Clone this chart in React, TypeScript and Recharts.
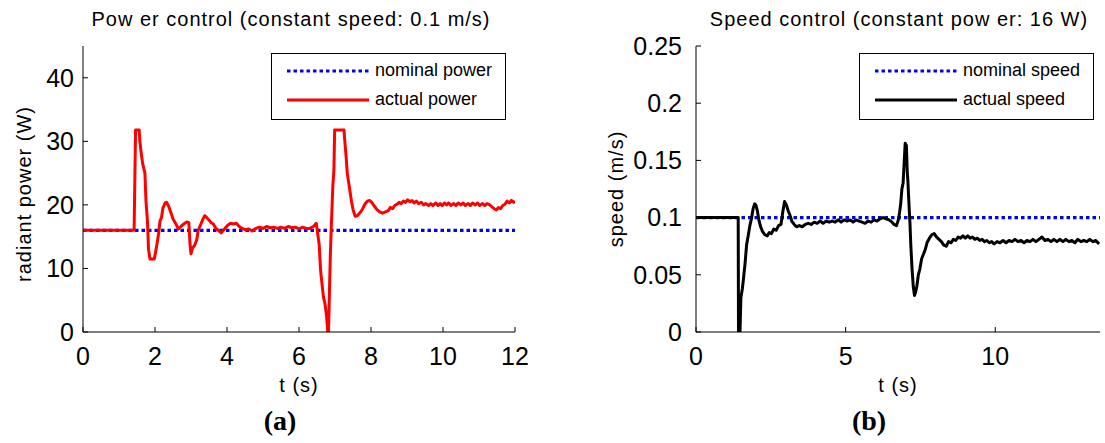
import { LineChart, Line, XAxis, YAxis } from 'recharts'

const POWER_TICKS_X = [0, 2, 4, 6, 8, 10, 12]
const POWER_TICKS_Y = [0, 10, 20, 30, 40]
const SPEED_TICKS_X = [0, 5, 10]
const SPEED_TICKS_Y = [0, 0.05, 0.1, 0.15, 0.2, 0.25]

// [t (s), value]
const nominalPower: [number, number][] = [[0, 16], [12, 16]]
const actualPower: [number, number][] = [
  [0, 16], [1.42, 16], [1.46, 31.8], [1.56, 31.8], [1.58, 30], [1.62, 28], [1.66, 26.4], [1.72, 25],
  [1.75, 20.5], [1.79, 17.5], [1.82, 13], [1.86, 11.5], [1.98, 11.5], [2.03, 13], [2.06, 14], [2.1, 15.5],
  [2.14, 17.5], [2.18, 18], [2.22, 19.5], [2.28, 20.3], [2.32, 20.4], [2.38, 19.8], [2.44, 18.8], [2.5, 17.8],
  [2.58, 17], [2.65, 16.2], [2.72, 16.6], [2.8, 17], [2.88, 17.3], [2.94, 17.2], [2.97, 14], [3.0, 12.3],
  [3.04, 13.2], [3.1, 13.6], [3.16, 14.5], [3.2, 16], [3.26, 16.8], [3.32, 17.6], [3.38, 18.3], [3.44, 18],
  [3.5, 17.6], [3.56, 17.2], [3.62, 17], [3.68, 16.4], [3.76, 16], [3.84, 15.6], [3.9, 16], [3.96, 16.4],
  [4.02, 16.8], [4.1, 17.1], [4.18, 17], [4.26, 17.1], [4.34, 16.6], [4.42, 16.3], [4.5, 16.1], [4.6, 16.2],
  [4.7, 15.9], [4.8, 16.3], [4.9, 16.5], [5.0, 16.3], [5.1, 16.6], [5.2, 16.4], [5.3, 16.5], [5.4, 16.3],
  [5.5, 16.5], [5.6, 16.3], [5.7, 16.6], [5.8, 16.4], [5.9, 16.5], [6.0, 16.2], [6.1, 16.5], [6.2, 16.3],
  [6.3, 16.3], [6.4, 16.6], [6.48, 17.1], [6.53, 15], [6.56, 13.8], [6.6, 9.7], [6.64, 7.5], [6.68, 5.5],
  [6.72, 4.5], [6.76, 2.8], [6.8, 0], [6.82, 0], [6.84, 5], [6.87, 12], [6.9, 17], [6.94, 23],
  [6.97, 25.5], [6.99, 31.8], [7.25, 31.8], [7.28, 29.5], [7.31, 27.5], [7.34, 25], [7.38, 23.5], [7.42, 22],
  [7.46, 20.5], [7.5, 19.3], [7.56, 18.2], [7.62, 18.3], [7.7, 18.8], [7.77, 19.4], [7.83, 20.1], [7.9, 20.6],
  [7.96, 20.7], [8.02, 20.4], [8.08, 19.9], [8.16, 19.3], [8.24, 18.9], [8.32, 18.7], [8.4, 18.9], [8.48, 19.1],
  [8.54, 19.6], [8.6, 19.4], [8.66, 19.9], [8.72, 20.1], [8.78, 20.4], [8.84, 20.2], [8.9, 20.6], [8.96, 20.4],
  [9.02, 20.8], [9.08, 20.5], [9.14, 20.7], [9.2, 20.3], [9.26, 20.6], [9.32, 20.2], [9.4, 20.4], [9.46, 20],
  [9.52, 20.2], [9.6, 19.9], [9.66, 20.2], [9.72, 19.9], [9.8, 20.3], [9.86, 19.9], [9.92, 20.2], [9.98, 19.9],
  [10.04, 20.3], [10.1, 20], [10.16, 20.3], [10.22, 19.9], [10.3, 20.2], [10.36, 19.9], [10.42, 20.3], [10.5, 20],
  [10.56, 20.3], [10.62, 19.9], [10.7, 20.2], [10.76, 19.9], [10.82, 20.3], [10.9, 20], [10.96, 20.3], [11.02, 19.9],
  [11.1, 20.2], [11.16, 19.9], [11.22, 20.2], [11.3, 20], [11.36, 19.7], [11.42, 19.4], [11.48, 19.2], [11.54, 19.6],
  [11.6, 19.4], [11.66, 19.9], [11.72, 20.1], [11.78, 20.6], [11.84, 20.3], [11.9, 20.7], [11.96, 20.4], [12, 20.6],
]

const nominalSpeed: [number, number][] = [[0, 0.1], [13.5, 0.1]]
const actualSpeed: [number, number][] = [
  [0, 0.1], [1.41, 0.1], [1.42, 0], [1.47, 0], [1.5, 0.03], [1.55, 0.038], [1.6, 0.05], [1.64, 0.06],
  [1.69, 0.076], [1.75, 0.085], [1.8, 0.093], [1.86, 0.1], [1.91, 0.108], [1.96, 0.112], [2.0, 0.111], [2.05, 0.106],
  [2.1, 0.098], [2.16, 0.092], [2.22, 0.088], [2.3, 0.085], [2.38, 0.084], [2.45, 0.087], [2.52, 0.086], [2.6, 0.09],
  [2.68, 0.089], [2.76, 0.093], [2.84, 0.094], [2.9, 0.105], [2.96, 0.114], [3.02, 0.111], [3.08, 0.106], [3.14, 0.102],
  [3.2, 0.097], [3.28, 0.094], [3.36, 0.092], [3.45, 0.093], [3.55, 0.092], [3.65, 0.094], [3.75, 0.095], [3.85, 0.094],
  [3.95, 0.096], [4.05, 0.095], [4.15, 0.097], [4.25, 0.095], [4.35, 0.097], [4.45, 0.096], [4.55, 0.097], [4.65, 0.096],
  [4.75, 0.098], [4.85, 0.096], [4.95, 0.098], [5.05, 0.097], [5.15, 0.098], [5.25, 0.096], [5.35, 0.098], [5.45, 0.097],
  [5.55, 0.096], [5.65, 0.095], [5.75, 0.097], [5.85, 0.096], [5.95, 0.098], [6.05, 0.097], [6.15, 0.099], [6.25, 0.1],
  [6.35, 0.099], [6.45, 0.098], [6.55, 0.096], [6.62, 0.094], [6.7, 0.093], [6.76, 0.098], [6.8, 0.104], [6.84, 0.112],
  [6.88, 0.125], [6.92, 0.13], [6.96, 0.15], [6.99, 0.165], [7.03, 0.163], [7.06, 0.14], [7.08, 0.132], [7.12, 0.11],
  [7.15, 0.095], [7.18, 0.075], [7.22, 0.055], [7.26, 0.04], [7.3, 0.032], [7.34, 0.035], [7.38, 0.04], [7.43, 0.05],
  [7.48, 0.055], [7.54, 0.064], [7.6, 0.068], [7.66, 0.072], [7.72, 0.078], [7.8, 0.082], [7.88, 0.085], [7.96, 0.086],
  [8.04, 0.083], [8.12, 0.081], [8.2, 0.079], [8.28, 0.076], [8.36, 0.075], [8.44, 0.079], [8.52, 0.078], [8.6, 0.081],
  [8.68, 0.08], [8.76, 0.083], [8.84, 0.082], [8.92, 0.084], [9.0, 0.082], [9.08, 0.084], [9.16, 0.082], [9.24, 0.083],
  [9.32, 0.081], [9.4, 0.082], [9.48, 0.08], [9.56, 0.081], [9.64, 0.079], [9.72, 0.08], [9.8, 0.078], [9.88, 0.079],
  [9.96, 0.077], [10.06, 0.079], [10.16, 0.078], [10.26, 0.08], [10.36, 0.078], [10.46, 0.08], [10.56, 0.079], [10.66, 0.081],
  [10.76, 0.079], [10.86, 0.08], [10.96, 0.078], [11.06, 0.08], [11.16, 0.079], [11.26, 0.081], [11.36, 0.079], [11.46, 0.081],
  [11.56, 0.083], [11.66, 0.08], [11.76, 0.081], [11.86, 0.079], [11.96, 0.081], [12.06, 0.079], [12.16, 0.081], [12.26, 0.079],
  [12.36, 0.081], [12.46, 0.079], [12.56, 0.08], [12.66, 0.078], [12.76, 0.081], [12.86, 0.079], [12.96, 0.08], [13.06, 0.079],
  [13.16, 0.081], [13.26, 0.079], [13.36, 0.08], [13.47, 0.077],
]

const toRows = (pts: [number, number][]) => pts.map(([t, v]) => ({ t, v }))

const SANS = '"Liberation Sans", Arial, sans-serif'
const tickStyle = { fill: '#000', fontSize: 25, fontFamily: SANS }
const axisLabel = { fill: '#000', fontSize: 20, fontFamily: SANS, letterSpacing: 1 }

function LegendBox({ left, items }: { left: number; items: { label: string; color: string; dotted: boolean }[] }) {
  return (
    <div
      style={{
        position: 'absolute', left, top: 53, width: 235, height: 67, border: '1px solid #000',
        background: '#fff', fontFamily: SANS, fontSize: 18, boxSizing: 'border-box',
      }}
    >
      {items.map((it, i) => (
        <div key={i} style={{ position: 'absolute', left: 15, top: 6 + i * 29, display: 'flex', alignItems: 'center' }}>
          <svg width={82} height={6} style={{ marginRight: 6 }}>
            <line x1={0} y1={3} x2={82} y2={3} stroke={it.color} strokeWidth={3.2}
              strokeDasharray={it.dotted ? '3.5 3' : undefined} />
          </svg>
          <span>{it.label}</span>
        </div>
      ))}
    </div>
  )
}

function Panel(props: {
  left: number; width: number; yWidth: number; plotWidth: number; tickMargin: number
  xMax: number; yMax: number; xTicks: number[]; yTicks: number[]
  nominal: [number, number][]; actual: [number, number][]; color: string
  yLabel: string; yLabelDx: number; yLabelDy: number
}) {
  const { left, width, yWidth, plotWidth, xMax, yMax, xTicks, yTicks } = props
  return (
    <div style={{ position: 'absolute', left, top: 0 }}>
      <LineChart width={width} height={443} margin={{ top: 46, right: width - yWidth - plotWidth, left: 0, bottom: 71 }}>
        <XAxis xAxisId="b" dataKey="t" type="number" domain={[0, xMax]} ticks={xTicks} allowDataOverflow
          height={40} tickSize={-5} tickMargin={20} tick={tickStyle} stroke="#000" interval={0}
          label={{ value: 't (s)', position: 'bottom', offset: 6, style: axisLabel }} />
        <XAxis xAxisId="top" orientation="top" dataKey="t" type="number" domain={[0, xMax]} ticks={xTicks}
          height={0} tickSize={-5} tick={false} stroke="#000" />
        <YAxis yAxisId="l" type="number" domain={[0, yMax]} ticks={yTicks} allowDataOverflow width={yWidth}
          tickSize={-5} tickMargin={props.tickMargin} tick={tickStyle} stroke="#000" interval={0}
          label={{ value: props.yLabel, angle: -90, position: 'center', dx: props.yLabelDx, dy: props.yLabelDy, style: axisLabel }} />
        <YAxis yAxisId="r" orientation="right" type="number" domain={[0, yMax]} ticks={yTicks} width={0}
          tickSize={-5} tick={false} stroke="#000" />
        <Line xAxisId="b" yAxisId="l" data={toRows(props.nominal)} dataKey="v" stroke="#0000ff" strokeWidth={3.2}
          strokeDasharray="3.5 3" dot={false} isAnimationActive={false} />
        <Line xAxisId="b" yAxisId="l" data={toRows(props.actual)} dataKey="v" stroke={props.color} strokeWidth={3}
          strokeLinejoin="round" dot={false} isAnimationActive={false} />
      </LineChart>
    </div>
  )
}

const titleStyle = (cx: number): React.CSSProperties => ({
  position: 'absolute', left: cx, top: 8, transform: 'translateX(-50%)', whiteSpace: 'nowrap',
  fontFamily: SANS, fontSize: 20, letterSpacing: 1, color: '#000',
})
const capStyle = (cx: number): React.CSSProperties => ({
  position: 'absolute', left: cx, top: 405, transform: 'translateX(-50%)',
  fontFamily: '"Liberation Serif", "Times New Roman", serif', fontWeight: 'bold', fontSize: 28, color: '#000',
})

export default function App() {
  return (
    <div style={{ position: 'absolute', left: 0, top: 0, width: 1105, height: 443, background: '#fff', overflow: 'hidden' }}>
      <Panel left={0} width={540} yWidth={83} plotWidth={432} tickMargin={14} xMax={12} yMax={45}
        xTicks={POWER_TICKS_X} yTicks={POWER_TICKS_Y} nominal={nominalPower} actual={actualPower}
        color="#ff0000" yLabel="radiant power (W)" yLabelDx={-18} yLabelDy={5} />
      <Panel left={560} width={545} yWidth={136} plotWidth={404} tickMargin={19} xMax={13.5} yMax={0.25}
        xTicks={SPEED_TICKS_X} yTicks={SPEED_TICKS_Y} nominal={nominalSpeed} actual={actualSpeed}
        color="#000000" yLabel="speed (m/s)" yLabelDx={-12} yLabelDy={0} />
      <div style={titleStyle(291)}>Pow er control (constant speed: 0.1 m/s)</div>
      <div style={titleStyle(899)}>Speed control (constant pow er: 16 W)</div>
      <LegendBox left={271} items={[
        { label: 'nominal power', color: '#0000ff', dotted: true },
        { label: 'actual power', color: '#ff0000', dotted: false },
      ]} />
      <LegendBox left={859} items={[
        { label: 'nominal speed', color: '#0000ff', dotted: true },
        { label: 'actual speed', color: '#000000', dotted: false },
      ]} />
      <div style={capStyle(280)}>(a)</div>
      <div style={capStyle(869)}>(b)</div>
    </div>
  )
}
